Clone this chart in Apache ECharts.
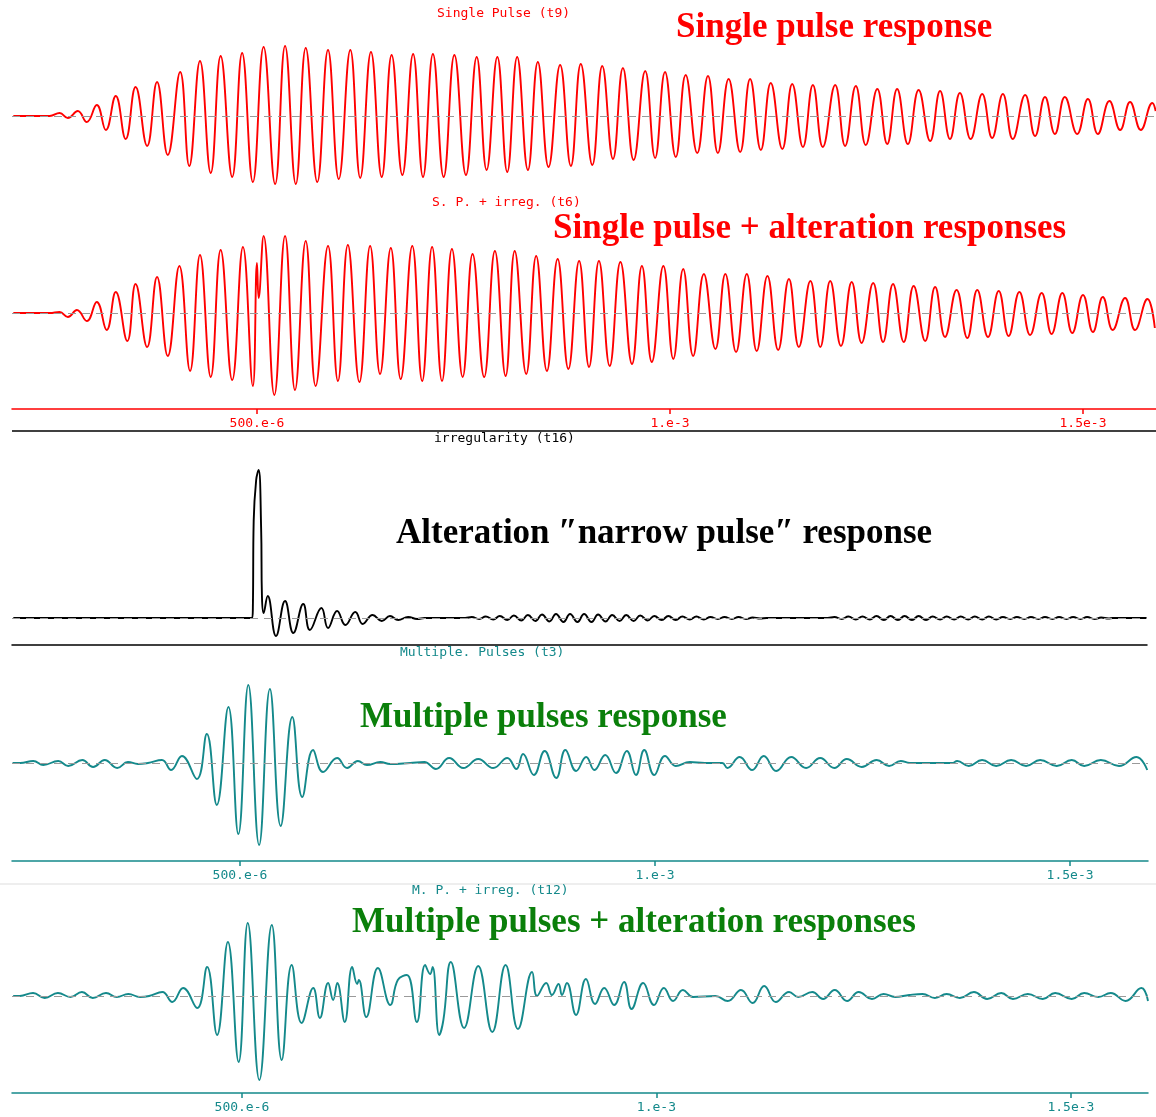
<!DOCTYPE html>
<html>
<head>
<meta charset="utf-8">
<script src="https://cdn.jsdelivr.net/npm/echarts@6/dist/echarts.min.js"></script>
<style>
  html, body { margin: 0; padding: 0; background: #fff; }
  #chart { width: 1156px; height: 1117px; }
</style>
</head>
<body>
<div id="chart"></div>
<script>
// time in microseconds, amplitude in arbitrary units
const singlePulse = [
  [205,0],[249,0],[261,3],[271,-2],[283,5],[294,-6],[306,11],[317,-14],[329,20],[341,-23],
  [353,29],[367,-30],[379,34],[392,-39],[407,44],[418,-50],[431,55],[444,-57],[456,60],[470,-61],
  [482,63],[495,-66],[508,69],[522,-68],[534,70],[547,-68],[559,68],[573,-66],[586,66],[599,-63],
  [613,66],[625,-62],[638,64],[651,-61],[663,61],[676,-59],[689,62],[701,-61],[713,62],[726,-61],
  [739,61],[753,-59],[766,59],[778,-54],[791,59],[803,-56],[815,59],[828,-54],[840,54],[853,-51],
  [867,51],[880,-50],[892,52],[906,-49],[918,50],[931,-43],[943,48],[956,-44],[970,45],[982,-42],
  [994,44],[1007,-41],[1019,41],[1033,-37],[1046,40],[1058,-37],[1071,37],[1085,-36],[1097,37],[1110,-34],
  [1122,33],[1136,-33],[1148,32],[1161,-31],[1173,31],[1185,-31],[1200,31],[1212,-30],[1225,30],[1237,-29],
  [1251,27],[1263,-28],[1275,27],[1288,-28],[1301,26],[1315,-25],[1327,25],[1339,-23],[1351,23],[1364,-23],
  [1378,22],[1390,-22],[1403,22],[1415,-23],[1430,21],[1442,-20],[1454,19],[1466,-18],[1478,19],[1493,-18],
  [1506,17],[1518,-18],[1532,15],[1545,-14],[1557,14],[1570,-14],[1584,13],[1588,5]
];

const singlePulseIrreg = [
  [205,0],[249,0],[261,1],[271,-4],[282,3],[294,-8],[306,11],[318,-17],[329,21],[343,-28],
  [353,29],[367,-34],[379,36],[392,-43],[406,47],[419,-58],[431,58],[444,-64],[456,63],[470,-67],
  [483,66],[495,-73],[500,50],[502,15],[508,77],[521,-82],[534,77],[546,-77],[559,72],[571,-73],
  [586,67],[598,-68],[610,68],[624,-69],[637,67],[649,-61],[662,65],[674,-66],[688,67],[700,-68],
  [712,66],[724,-68],[736,64],[749,-64],[761,59],[775,-64],[788,62],[801,-63],[812,62],[826,-61],
  [838,57],[851,-58],[864,54],[877,-56],[890,52],[902,-54],[914,52],[927,-53],[940,51],[954,-51],
  [966,47],[978,-49],[992,47],[1004,-46],[1016,44],[1028,-43],[1041,39],[1055,-36],[1067,39],[1080,-39],
  [1093,39],[1105,-38],[1118,37],[1131,-37],[1144,34],[1156,-34],[1170,32],[1182,-34],[1194,32],[1207,-33],
  [1220,31],[1232,-30],[1246,30],[1258,-29],[1270,29],[1283,-29],[1295,27],[1309,-28],[1321,26],[1333,-24],
  [1347,23],[1360,-25],[1372,23],[1385,-24],[1398,22],[1410,-23],[1423,21],[1436,-22],[1450,20],[1462,-21],
  [1475,20],[1487,-20],[1500,18],[1512,-19],[1524,16],[1536,-17],[1551,15],[1563,-17],[1578,14],[1587,-15]
];

const irregularity = [
  [205,0],[494,0],[495,10],[496,97],[499,138],[502,148],[505,90],[506,22],[508,5],[513,22],
  [523,-18],[534,17],[544,-15],[556,14],[564,-12],[578,10],[586,-10],[597,7],[607,-7],[619,6],
  [628,-6],[640,3],[651,-3],[661,2],[671,-2],[683,1],[694,-1],[703,0],[752,0],
  [760,1],[769,-1],[777,1.5],[786,-1.5],[794,2],[803,-2],[811,2.5],[820,-2.5],[828,3],[837,-3],
  [845,3.5],[854,-3.5],[862,4],[871,-4],[879,4],[888,-4],[896,4],[905,-4],[913,3.5],[922,-3.5],
  [930,3],[939,-3],[947,3],[956,-3],[964,2.5],[973,-2.5],[981,2],[990,-2],[998,2],[1007,-2],
  [1015,1.5],[1024,-1.5],[1032,1.5],[1041,-1.5],[1049,1],[1058,-1],[1066,1],[1075,-1],[1083,1],[1092,-1],
  [1100,0.5],[1109,-0.5],[1117,0],[1191,0],
  [1199,1],[1208,-1],[1216,1.5],[1225,-1.5],[1233,1.5],[1242,-1.5],[1250,2],[1259,-2],[1267,2],[1276,-2],
  [1284,2],[1293,-2],[1301,2],[1310,-2],[1318,1.5],[1327,-1.5],[1335,1.5],[1344,-1.5],[1352,1.5],[1361,-1.5],
  [1369,1.5],[1378,-1.5],[1386,1.5],[1395,-1.5],[1403,1],[1412,-1],[1420,1],[1429,-1],[1437,1],[1446,-1],
  [1454,1],[1463,-1],[1471,1],[1480,-1],[1488,1],[1497,-1],[1505,1],[1514,-1],[1522,0.5],[1531,-0.5],
  [1536,0],[1577,0]
];

const multiPulse = [
  [226,0],[235,0],[251,2],[263,-2],[281,2],[293,-3],[310,3],[323,-4],[337,3],[352,-5],
  [365,1],[377,-1],[389,0],[406,3],[417,-7],[430,7],[448,-16],[460,29],[472,-42],[486,56],
  [498,-71],[510,78],[523,-82],[536,74],[549,-63],[563,46],[575,-34],[588,13],[600,-9],[617,5],
  [629,-5],[642,2],[653,-2],[669,1],[681,-1],[705,0],[722,1],[736,-6],[752,5],[769,-5],[787,4],
  [805,-5],[822,5],[833,-6],[841,9],[854,-12],[867,12],[881,-15],[892,13],[905,-8],[917,6],
  [927,-7],[940,8],[953,-10],[966,12],[977,-12],[987,13],[999,-12],[1012,7],[1025,-3],[1042,1],
  [1060,0],[1081,0],[1087,-5],[1102,6],[1117,-7],[1131,7],[1146,-8],[1164,6],[1182,-5],[1199,5],
  [1216,-5],[1231,4],[1249,-4],[1267,3],[1282,-3],[1296,2],[1307,0],[1358,0],[1364,2],[1378,-3],
  [1394,3],[1411,-3],[1429,3],[1447,-3],[1464,3],[1484,-3],[1502,3],[1517,-3],[1537,3],[1559,-3],
  [1580,6],[1593,-7]
];

const multiPulseIrreg = [
  [224,0],[232,0],[248,3],[262,-2],[278,3],[293,-1],[307,4],[320,-2],[336,3],[349,-1],
  [363,2],[377,-1],[388,0],[404,4],[416,-6],[429,8],[446,-12],[458,29],[470,-39],[483,54],
  [496,-66],[507,73],[521,-84],[536,71],[548,-64],[560,31],[572,-27],[586,8],[594,-22],[604,13],
  [610,-4],[615,13],[624,-26],[633,29],[639,12],[641,16],[650,-21],[664,28],[679,-9],[688,16],
  [699,21],[711,-26],[721,31],[727,22],[730,29],[738,-39],[743,-24],[752,34],[768,-32],[785,30],
  [802,-36],[818,31],[833,-33],[850,24],[856,0],[867,13],[874,1],[882,12],[886,1],[892,13],
  [903,-19],[915,17],[926,-8],[937,8],[949,-9],[961,14],[970,-13],[984,13],[997,-9],[1009,8],
  [1020,-5],[1032,6],[1044,-1],[1071,0],[1086,-5],[1102,6],[1116,-7],[1130,10],[1144,-6],[1160,4],
  [1171,-1],[1188,4],[1201,-3],[1215,6],[1230,-5],[1244,4],[1260,-3],[1274,2],[1288,-1],[1305,1],[1321,2],[1336,-2],
  [1350,2],[1366,-2],[1383,4],[1399,-3],[1416,3],[1430,-3],[1448,2],[1466,-3],[1481,3],[1501,-3],
  [1516,3],[1533,-1],[1548,3],[1566,-5],[1585,8],[1593,-5]
];

const tickValues = [500, 1000, 1500];
const tickLabels = ['500.e-6', '1.e-3', '1.5e-3'];

const RED = '#ff0000';
const TEAL = '#14898b';
const GREEN = '#0a7f0a';

const chart = echarts.init(document.getElementById('chart'));

function tickAxis(gridIndex, min, max, color) {
  return {
    type: 'value', gridIndex: gridIndex, min: min, max: max, position: 'bottom',
    splitLine: { show: false },
    axisLine: { show: true, onZero: false, lineStyle: { color: color, width: 1.5 } },
    axisTick: { show: true, customValues: tickValues, length: 5, lineStyle: { color: color, width: 1.5 } },
    axisLabel: {
      show: true, customValues: tickValues, color: color, margin: 8,
      fontFamily: 'DejaVu Sans Mono', fontSize: 13,
      formatter: (v) => tickLabels[tickValues.indexOf(v)] || ''
    }
  };
}

function trace(idx, data, color) {
  return {
    type: 'line', xAxisIndex: idx, yAxisIndex: idx, data: data,
    showSymbol: false, smooth: 0.45,
    lineStyle: { color: color, width: 1.9 },
    markLine: {
      silent: true, symbol: ['none', 'none'], label: { show: false },
      lineStyle: { color: '#9a9a9a', type: [8, 6], width: 1.2 },
      data: [{ yAxis: 0 }]
    }
  };
}

const smallTitle = (text, left, top, color) => ({
  type: 'text', left: left, top: top,
  style: { text: text, fill: color, font: '13px "DejaVu Sans Mono"' }
});
const bigTitle = (text, left, top, color) => ({
  type: 'text', left: left, top: top,
  style: { text: text, fill: color, font: 'bold 35px "Liberation Serif"' }
});

chart.setOption({
  animation: false,
  backgroundColor: '#fff',
  grid: [
    { left: 12, width: 1144, top: 36, height: 160 },
    { left: 12, width: 1144, top: 217, height: 192 },
    { left: 12, width: 1135, top: 431, height: 214 },
    { left: 12, width: 1136, top: 665, height: 196 },
    { left: 12, width: 1136, top: 899, height: 194 }
  ],
  xAxis: [
    { type: 'value', gridIndex: 0, min: 203.4, max: 1588.4, show: false },
    tickAxis(1, 203.4, 1588.4, RED),
    {
      type: 'value', gridIndex: 2, min: 203.4, max: 1577.5, position: 'bottom',
      splitLine: { show: false }, axisTick: { show: false }, axisLabel: { show: false },
      axisLine: { show: true, onZero: false, lineStyle: { color: '#000', width: 1.5 } }
    },
    tickAxis(3, 225.3, 1593.9, TEAL),
    tickAxis(4, 222.6, 1593.0, TEAL)
  ],
  yAxis: [
    { type: 'value', gridIndex: 0, min: -80, max: 80, show: false },
    { type: 'value', gridIndex: 1, min: -96, max: 96, show: false },
    { type: 'value', gridIndex: 2, min: -27, max: 187, show: false },
    { type: 'value', gridIndex: 3, min: -98, max: 98, show: false },
    { type: 'value', gridIndex: 4, min: -97, max: 97, show: false }
  ],
  series: [
    trace(0, singlePulse, RED),
    trace(1, singlePulseIrreg, RED),
    trace(2, irregularity, '#000'),
    trace(3, multiPulse, TEAL),
    trace(4, multiPulseIrreg, TEAL)
  ],
  graphic: [
    { type: 'line', shape: { x1: 12, y1: 431, x2: 1156, y2: 431 }, style: { stroke: '#000', lineWidth: 1.5 } },
    { type: 'line', shape: { x1: 0, y1: 884, x2: 1156, y2: 884 }, style: { stroke: '#dddddd', lineWidth: 1 } },
    smallTitle('Single Pulse (t9)', 437, 7, RED),
    smallTitle('S. P. + irreg. (t6)', 432, 196, RED),
    smallTitle('irregularity (t16)', 434, 432, '#000'),
    smallTitle('Multiple. Pulses (t3)', 400, 646, TEAL),
    smallTitle('M. P. + irreg. (t12)', 412, 884, TEAL),
    bigTitle('Single pulse response', 676, 10, RED),
    bigTitle('Single pulse + alteration responses', 553, 211, RED),
    bigTitle('Alteration \u2033narrow pulse\u2033 response', 396, 516, '#000'),
    bigTitle('Multiple pulses response', 360, 700, GREEN),
    bigTitle('Multiple pulses + alteration responses', 352, 905, GREEN)
  ]
});
</script>
</body>
</html>
